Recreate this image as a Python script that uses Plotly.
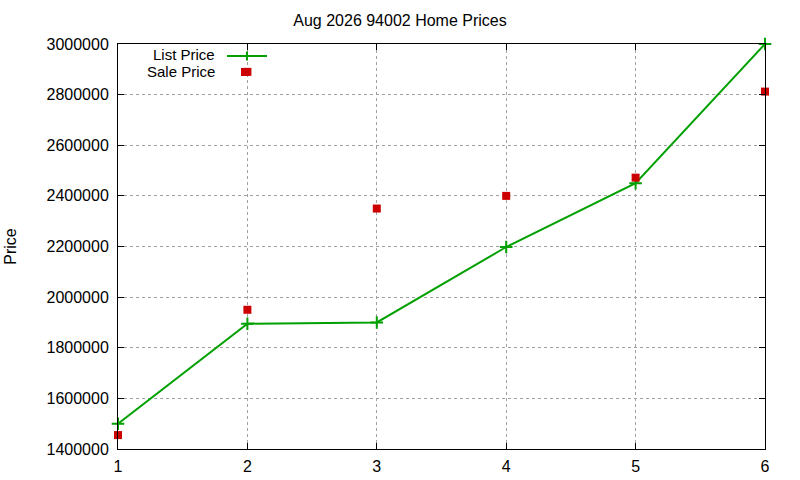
import plotly.graph_objects as go

x_list = [1, 2, 3, 4, 5, 6]
list_price = [1500000, 1895000, 1900000, 2198000, 2450000, 3000000]
x_sale = [1, 2, 2, 3, 4, 5, 6]
sale_price = [1455000, 2890000, 1950000, 2350000, 2400000, 2472000, 2812000]

title = "Aug 2026 94002 Home Prices"
GREEN = "#00a000"
RED = "#cc0000"
FONT = "Liberation Sans, Arial, sans-serif"

fig = go.Figure()
fig.add_trace(go.Scatter(x=x_list, y=list_price, mode="lines+markers", name="List Price",
                         line=dict(color=GREEN, width=2),
                         marker=dict(symbol="cross-thin", size=9, line=dict(color=GREEN, width=2)),
                         cliponaxis=False, showlegend=False))
fig.add_trace(go.Scatter(x=x_sale, y=sale_price, mode="markers", name="Sale Price",
                         marker=dict(symbol="square", size=8, color=RED, line=dict(width=0)),
                         cliponaxis=False, showlegend=False))

L, R, T, B = 118, 35, 44, 31
W, H = 800, 480
pw, ph = W - L - R, H - T - B

def px(xp):
    return (xp - L) / pw

def py(yp):
    return (H - B - yp) / ph

axis_common = dict(showline=True, mirror="ticks", linecolor="black", linewidth=1,
                   ticks="inside", ticklen=6, tickcolor="black", automargin=False,
                   showgrid=True, gridcolor="#a0a0a0", griddash="dot", gridwidth=1,
                   zeroline=False, tickfont=dict(size=16, color="black", family=FONT))

fig.update_layout(
    width=W, height=H,
    margin=dict(l=L, r=R, t=T, b=B, autoexpand=False),
    paper_bgcolor="white", plot_bgcolor="white",
    font=dict(family=FONT, size=16, color="black"),
    title=dict(text=title, x=0.5, xanchor="center", y=1 - 20 / H, yanchor="middle",
               font=dict(size=16), automargin=False),
    xaxis=dict(range=[1, 6], dtick=1, tick0=1, ticklabelstandoff=3, **axis_common),
    yaxis=dict(range=[1400000, 3000000], dtick=200000, tickformat="d", ticklabelstandoff=5,
               title=dict(text="Price", standoff=25, font=dict(size=16)), **axis_common),
)

# gnuplot-style legend (text right, sample left)
fig.add_annotation(text="List Price", xref="paper", yref="paper", x=px(217), y=py(55),
                   xanchor="right", yanchor="middle", showarrow=False, font=dict(size=15))
fig.add_annotation(text="Sale Price", xref="paper", yref="paper", x=px(217), y=py(72),
                   xanchor="right", yanchor="middle", showarrow=False, font=dict(size=15))
fig.add_shape(type="line", xref="paper", yref="paper", x0=px(227), x1=px(267), y0=py(56), y1=py(56),
              line=dict(color=GREEN, width=2))
fig.add_shape(type="line", xref="paper", yref="paper", x0=px(247), x1=px(247), y0=py(51.5), y1=py(60.5),
              line=dict(color=GREEN, width=2))
fig.add_shape(type="rect", xref="paper", yref="paper", x0=px(241), x1=px(249), y0=py(76), y1=py(68),
              line=dict(width=0), fillcolor=RED)

fig.write_html("out.html", config={"displayModeBar": False})
with open("out.html", encoding="utf-8") as f:
    html = f.read()
html = html.replace("<body>", '<body style="margin:0;overflow:hidden">', 1)
with open("out.html", "w", encoding="utf-8") as f:
    f.write(html)
